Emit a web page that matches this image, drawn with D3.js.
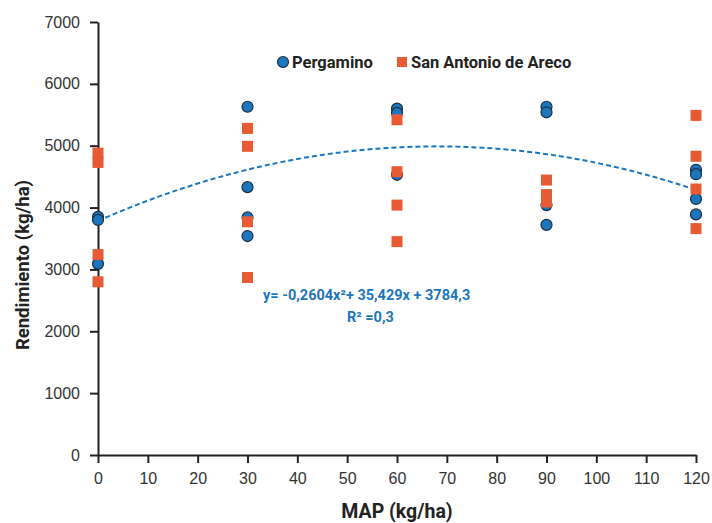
<!DOCTYPE html>
<html lang="es">
<head>
<meta charset="UTF-8">
<title>Rendimiento vs MAP</title>
<script src="https://cdnjs.cloudflare.com/ajax/libs/d3/7.8.5/d3.min.js"></script>
<style>
    body { margin: 0; background: #fff; }
    svg { display: block; font-family: Roboto, "Noto Sans", sans-serif; }
    .tick text { font-size: 16px; fill: #333; }
    .tick line, .domain { stroke: #222; stroke-width: 2px; }
</style>
</head>
<body>
<div id="wrapper"></div>
<script>
// data
const xTicks = [0, 10, 20, 30, 40, 50, 60, 70, 80, 90, 100, 110, 120];
const yTicks = [0, 1000, 2000, 3000, 4000, 5000, 6000, 7000];

const pergaminoMap   = [0, 0, 0, 30, 30, 30, 30, 60, 60, 60, 90, 90, 90, 90, 120, 120, 120, 120];
const pergaminoYield = [3850, 3800, 3090, 5630, 4330, 3840, 3540, 5600, 5530, 4530, 5630, 5540, 4040, 3720, 4610, 4540, 4140, 3890];

const arecoMap   = [0, 0, 0, 0, 30, 30, 30, 30, 60, 60, 60, 60, 90, 90, 90, 120, 120, 120, 120];
const arecoYield = [4880, 4730, 3240, 2800, 5280, 4990, 3770, 2870, 5420, 4580, 4040, 3450, 4445, 4210, 4090, 5490, 4830, 4300, 3660];

// y = a x^2 + b x + c
const trendCoef = [-0.2604, 35.429, 3784.3];

const blue = "#1c76bd";
const orange = "#e85a33";

const dims = {
    width: 712,
    height: 523,
    margin: { top: 22, right: 16, bottom: 68, left: 98 }
};
dims.boundedWidth = dims.width - dims.margin.left - dims.margin.right;
dims.boundedHeight = dims.height - dims.margin.top - dims.margin.bottom;

const svg = d3.select("#wrapper")
    .append("svg")
    .attr("width", dims.width)
    .attr("height", dims.height);

const bounds = svg.append("g")
    .attr("transform", `translate(${dims.margin.left},${dims.margin.top})`);

const xScale = d3.scaleLinear().domain([0, 120]).range([0, dims.boundedWidth]);
const yScale = d3.scaleLinear().domain([0, 7000]).range([dims.boundedHeight, 0]);

// axes
bounds.append("g")
    .attr("transform", `translate(0,${dims.boundedHeight})`)
    .call(d3.axisBottom(xScale).tickValues(xTicks).tickFormat(d3.format("d")).tickSize(8).tickSizeOuter(0).tickPadding(10))
    .call(g => g.selectAll("text").attr("font-family", null));

bounds.append("g")
    .call(d3.axisLeft(yScale).tickValues(yTicks).tickFormat(d3.format("d")).tickSize(8).tickSizeOuter(0).tickPadding(10))
    .call(g => g.selectAll("text").attr("font-family", null));

// trend line
const trendPts = d3.range(0, 120.5, 1).map(x => [x, trendCoef[0] * x * x + trendCoef[1] * x + trendCoef[2]]);
bounds.append("path")
    .datum(trendPts)
    .attr("fill", "none")
    .attr("stroke", blue)
    .attr("stroke-width", 2)
    .attr("stroke-dasharray", "5,3")
    .attr("d", d3.line().x(d => xScale(d[0])).y(d => yScale(d[1])));

// points
const pergamino = pergaminoMap.map((m, i) => ({ x: m, y: pergaminoYield[i] }));
const areco = arecoMap.map((m, i) => ({ x: m, y: arecoYield[i] }));

bounds.append("g").selectAll("circle")
    .data(pergamino)
    .join("circle")
    .attr("cx", d => xScale(d.x))
    .attr("cy", d => yScale(d.y))
    .attr("r", 5.5)
    .attr("fill", blue)
    .attr("stroke", "#1d2f44")
    .attr("stroke-width", 1.2);

const sq = 11;
bounds.append("g").selectAll("rect")
    .data(areco)
    .join("rect")
    .attr("x", d => xScale(d.x) - sq / 2)
    .attr("y", d => yScale(d.y) - sq / 2)
    .attr("width", sq)
    .attr("height", sq)
    .attr("fill", orange);

// legend
const legend = svg.append("g").attr("font-weight", "bold").attr("font-size", "16.5px").attr("fill", "#222");
legend.append("circle").attr("cx", 283).attr("cy", 62).attr("r", 5.5)
    .attr("fill", blue).attr("stroke", "#1d2f44").attr("stroke-width", 1.2);
legend.append("text").attr("x", 292).attr("y", 68).text("Pergamino");
legend.append("rect").attr("x", 397).attr("y", 57).attr("width", 10).attr("height", 10).attr("fill", orange);
legend.append("text").attr("x", 411).attr("y", 68).text("San Antonio de Areco");

// equation
const eq = svg.append("g").attr("font-weight", "bold").attr("font-size", "14.5px").attr("fill", blue);
eq.append("text").attr("x", 263).attr("y", 300).text("y= -0,2604x²+ 35,429x + 3784,3");
eq.append("text").attr("x", 347).attr("y", 322).text("R² =0,3");

// axis titles
svg.append("text")
    .attr("x", dims.margin.left + dims.boundedWidth / 2)
    .attr("y", 518)
    .attr("text-anchor", "middle")
    .attr("font-weight", "bold")
    .attr("font-size", "19.5px")
    .attr("fill", "#222")
    .text("MAP (kg/ha)");

svg.append("text")
    .attr("transform", "translate(29,265) rotate(-90)")
    .attr("text-anchor", "middle")
    .attr("font-weight", "bold")
    .attr("font-size", "18.5px")
    .attr("fill", "#222")
    .text("Rendimiento (kg/ha)");
</script>
</body>
</html>
